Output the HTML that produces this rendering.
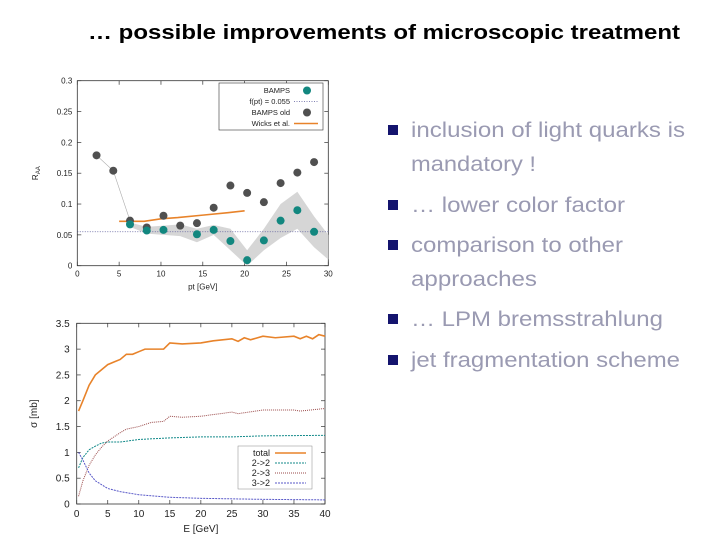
<!DOCTYPE html>
<html><head><meta charset="utf-8"><style>
html,body{margin:0;padding:0;background:#fff}
svg{display:block;font-family:"Liberation Sans",sans-serif}
</style></head><body>
<svg id="s" width="720" height="540" viewBox="0 0 720 540">
<text x="88" y="39" font-size="20" font-weight="bold" fill="#000" textLength="592" lengthAdjust="spacingAndGlyphs">… possible improvements of microscopic treatment</text>
<g font-size="21.5" fill="#9a9ab2">
<rect x="388" y="125" width="10" height="10" fill="#14146e"/>
<text x="411" y="137" textLength="274" lengthAdjust="spacingAndGlyphs">inclusion of light quarks is</text>
<text x="411" y="171" textLength="125" lengthAdjust="spacingAndGlyphs">mandatory !</text>
<rect x="388" y="200" width="10" height="10" fill="#14146e"/>
<text x="411" y="212" textLength="214" lengthAdjust="spacingAndGlyphs">… lower color factor</text>
<rect x="388" y="240" width="10" height="10" fill="#14146e"/>
<text x="411" y="252" textLength="212" lengthAdjust="spacingAndGlyphs">comparison to other</text>
<text x="411" y="286" textLength="126" lengthAdjust="spacingAndGlyphs">approaches</text>
<rect x="388" y="314" width="10" height="10" fill="#14146e"/>
<text x="411" y="326" textLength="252" lengthAdjust="spacingAndGlyphs">… LPM bremsstrahlung</text>
<rect x="388" y="355" width="10" height="10" fill="#14146e"/>
<text x="411" y="367" textLength="269" lengthAdjust="spacingAndGlyphs">jet fragmentation scheme</text>
</g>
<g id="c1"></g>
<g id="c2"></g>
</svg>
<script>
// Chart 1 data
const ptNew = [6.3,8.3,10.3,14.3,16.3,18.3,20.3,22.3,24.3,26.3,28.3];
const raaNew = [0.067,0.057,0.058,0.051,0.058,0.040,0.009,0.041,0.073,0.090,0.055];
const ptOld = [2.3,4.3,6.3,8.3,10.3,12.3,14.3,16.3,18.3,20.3,22.3,24.3,26.3,28.3];
const raaOld = [0.179,0.154,0.073,0.062,0.081,0.065,0.069,0.094,0.130,0.118,0.103,0.134,0.151,0.168];
const bandPt = [6.3,8.3,10.3,12.3,14.3,16.3,18.3,20.3,22.3,24.3,26.3,28.3,30];
const bandHi = [0.070,0.063,0.065,0.067,0.060,0.066,0.060,0.025,0.060,0.100,0.120,0.080,0.050];
const bandLo = [0.063,0.052,0.050,0.048,0.038,0.050,0.025,0.000,0.025,0.045,0.060,0.030,0.010];
const wicksPt = [5,8,10,12,15,18,20];
const wicksRaa = [0.072,0.072,0.076,0.078,0.082,0.086,0.089];
const fConst = [0.055];
const xTicks1 = [0,5,10,15,20,25,30];
const yTicks1 = [0,0.05,0.1,0.15,0.2,0.25,0.3];
// Chart 2 data
const eTotal = [0.3,1,2,3,4,5,6,7,8,9,10,11,12,14,15,17,20,22,25,26,27,28,30,32,35,36,37,38,39,40];
const sTotal = [1.8,2.0,2.3,2.5,2.6,2.7,2.75,2.8,2.9,2.9,2.95,3.0,3.0,3.0,3.12,3.1,3.12,3.16,3.2,3.15,3.22,3.18,3.25,3.22,3.25,3.2,3.25,3.2,3.28,3.25];
const e22 = [0.3,1,2,3,4,5,7,10,15,20,25,30,40];
const s22 = [0.7,0.9,1.05,1.12,1.18,1.2,1.2,1.25,1.28,1.3,1.3,1.32,1.33];
const e23 = [0.3,1,2,3,4,5,6,7,8,10,12,14,15,17,20,25,26,30,35,36,40];
const s23 = [0.15,0.45,0.75,0.95,1.1,1.22,1.3,1.38,1.45,1.5,1.58,1.6,1.7,1.68,1.7,1.78,1.75,1.82,1.82,1.8,1.85];
const e32 = [0.3,1,2,3,5,7,10,15,20,30,40];
const s32 = [1.0,0.85,0.6,0.45,0.3,0.24,0.18,0.13,0.11,0.09,0.08];
const xTicks2 = [0,5,10,15,20,25,30,35,40];
const yTicks2 = [0,0.5,1,1.5,2,2.5,3,3.5];

const NS="http://www.w3.org/2000/svg";
function mk(p,t,a){const e=document.createElementNS(NS,t);for(const k in a)e.setAttribute(k,a[k]);p.appendChild(e);return e;}

// ---- Chart 1
(function(){
const g=document.getElementById('c1');
const L=77.3,R=328.3,T=80.7,B=265.7;
const X=v=>L+(v-0)/30*(R-L), Y=v=>B-v/0.3*(B-T);
const fr=mk(g,'rect',{x:L,y:T,width:R-L,height:B-T,fill:'none',stroke:'#333','stroke-width':0.8});

xTicks1.forEach(v=>{mk(g,'line',{x1:X(v),x2:X(v),y1:B,y2:B-4,stroke:'#333','stroke-width':0.7});mk(g,'line',{x1:X(v),x2:X(v),y1:T,y2:T+4,stroke:'#333','stroke-width':0.7});
const t=mk(g,'text',{x:X(v),y:B+11,'font-size':8,'text-anchor':'middle',fill:'#222'});t.textContent=v;});
yTicks1.forEach(v=>{mk(g,'line',{x1:L,x2:L+4,y1:Y(v),y2:Y(v),stroke:'#333','stroke-width':0.7});mk(g,'line',{x1:R,x2:R-4,y1:Y(v),y2:Y(v),stroke:'#333','stroke-width':0.7});
const t=mk(g,'text',{x:L-5,y:Y(v)+3,'font-size':8,'text-anchor':'end',fill:'#222'});t.textContent=v;});
let xt=mk(g,'text',{x:X(15),y:B+24,'font-size':8,'text-anchor':'middle',fill:'#222'});xt.textContent='pt [GeV]';

let yt=mk(g,'text',{x:0,y:0,'font-size':8,'text-anchor':'middle',fill:'#222',transform:`translate(38,${Y(0.15)}) rotate(-90)`});yt.innerHTML='R<tspan font-size="6" dy="2">AA</tspan>';

let d='';bandPt.forEach((p,i)=>d+=(i?'L':'M')+X(p)+','+Y(bandHi[i]));
for(let i=bandPt.length-1;i>=0;i--)d+='L'+X(bandPt[i])+','+Y(bandLo[i]);
const band=mk(g,'path',{d:d+'Z',fill:'#d6d6d6'});
const fl=mk(g,'line',{x1:L,x2:R,y1:Y(fConst[0]),y2:Y(fConst[0]),stroke:'#5a5a9a','stroke-width':0.7,'stroke-dasharray':'1,1.5'});

const cl=mk(g,'polyline',{points:ptOld.slice(0,3).map((p,i)=>X(p)+','+Y(raaOld[i])).join(' '),fill:'none',stroke:'#aaa','stroke-width':0.6});

const wl=mk(g,'polyline',{points:wicksPt.map((p,i)=>X(p)+','+Y(wicksRaa[i])).join(' '),fill:'none',stroke:'#e8832a','stroke-width':1.6});

ptOld.forEach((p,i)=>{const c=mk(g,'circle',{cx:X(p),cy:Y(raaOld[i]),r:4,fill:'#505050'});});
ptNew.forEach((p,i)=>{const c=mk(g,'circle',{cx:X(p),cy:Y(raaNew[i]),r:4,fill:'#12877f'});});
const lg=mk(g,'g',{});
mk(lg,'rect',{x:219,y:83,width:104,height:47,fill:'#fff',stroke:'#333','stroke-width':0.6});
const ent=[['BAMPS',93],['f(pt) = 0.055',104],['BAMPS old',115],['Wicks et al.',126]];
ent.forEach(([s,y])=>{const t=mk(lg,'text',{x:290,y:y,'font-size':7.5,'text-anchor':'end',fill:'#222'});t.textContent=s;});
mk(lg,'circle',{cx:307,cy:90.5,r:4,fill:'#12877f'});
mk(lg,'line',{x1:294,x2:318,y1:101.5,y2:101.5,stroke:'#5a5a9a','stroke-width':0.7,'stroke-dasharray':'1,1.5'});
mk(lg,'circle',{cx:307,cy:112.5,r:4,fill:'#505050'});
mk(lg,'line',{x1:294,x2:318,y1:123.5,y2:123.5,stroke:'#e8832a','stroke-width':1.6});
})();

// ---- Chart 2
(function(){
const g=document.getElementById('c2');
const L=76.7,R=325,T=323.3,B=504;
const X=v=>L+v/40*(R-L), Y=v=>B-v/3.5*(B-T);
const fr=mk(g,'rect',{x:L,y:T,width:R-L,height:B-T,fill:'none',stroke:'#333','stroke-width':0.8});

xTicks2.forEach(v=>{mk(g,'line',{x1:X(v),x2:X(v),y1:B,y2:B-4,stroke:'#333','stroke-width':0.7});mk(g,'line',{x1:X(v),x2:X(v),y1:T,y2:T+4,stroke:'#333','stroke-width':0.7});
const t=mk(g,'text',{x:X(v),y:B+13,'font-size':10,'text-anchor':'middle',fill:'#222'});t.textContent=v;});
yTicks2.forEach(v=>{mk(g,'line',{x1:L,x2:L+4,y1:Y(v),y2:Y(v),stroke:'#333','stroke-width':0.7});mk(g,'line',{x1:R,x2:R-4,y1:Y(v),y2:Y(v),stroke:'#333','stroke-width':0.7});
const t=mk(g,'text',{x:L-7,y:Y(v)+3.5,'font-size':10,'text-anchor':'end',fill:'#222'});t.textContent=v;});
let xt=mk(g,'text',{x:X(20),y:B+28,'font-size':10,'text-anchor':'middle',fill:'#222'});xt.textContent='E [GeV]';

let yt=mk(g,'text',{x:0,y:0,'font-size':10,'text-anchor':'middle',fill:'#222',transform:`translate(37,${Y(1.75)}) rotate(-90)`});yt.textContent='σ [mb]';

const ser=[[eTotal,sTotal,'#e8832a',1.6,'','total-line'],[e22,s22,'#138a8a',1,'2,1','series-2to2'],[e23,s23,'#9a4a4a',1,'1,1','series-2to3'],[e32,s32,'#5858c8',1,'2,1','series-3to2']];
ser.forEach(([xs,ys,c,w,da,n])=>{const p=mk(g,'polyline',{points:xs.map((x,i)=>X(x)+','+Y(ys[i])).join(' '),fill:'none',stroke:c,'stroke-width':w});if(da)p.setAttribute('stroke-dasharray',da);
});
const lg=mk(g,'g',{});
mk(lg,'rect',{x:238,y:446,width:74,height:43,fill:'#fff',stroke:'#888','stroke-width':0.5});
const ent=[['total',456,'#e8832a',''],['2->2',466,'#138a8a','2,1'],['2->3',476,'#9a4a4a','1,1'],['3->2',486,'#5858c8','2,1']];
ent.forEach(([s,y,c,da])=>{const t=mk(lg,'text',{x:270,y:y,'font-size':9,'text-anchor':'end',fill:'#222'});t.textContent=s;
const l=mk(lg,'line',{x1:275,x2:306,y1:y-3,y2:y-3,stroke:c,'stroke-width':da?1:1.6});if(da)l.setAttribute('stroke-dasharray',da);});
})();
</script>
</body></html>
